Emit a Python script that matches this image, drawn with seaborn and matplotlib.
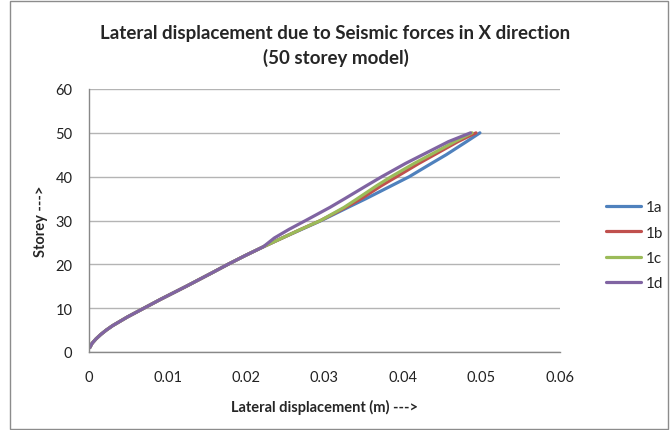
import numpy as np
import pandas as pd
import matplotlib
matplotlib.use('Agg')
import matplotlib.pyplot as plt
from matplotlib.patches import Rectangle
import seaborn as sns

# Storey levels
storeys = [1, 2, 3, 4, 5, 6, 8, 10, 12, 15, 18, 20, 22, 24,
           26, 28, 30, 33, 35, 38, 40, 43, 45, 48, 50]

# lower storeys: all four models lie on top of each other
lower = [0.0001, 0.0004, 0.0009, 0.0015, 0.0022, 0.0030, 0.0049, 0.0070,
         0.0091, 0.0124, 0.0156, 0.0177, 0.0199, 0.0222]

disp_1a = lower + [0.0246, 0.0271, 0.0296, 0.0330, 0.0353, 0.0386, 0.0408,
                   0.0436, 0.0455, 0.0481, 0.0498]
disp_1b = lower + [0.0246, 0.0270, 0.0295, 0.0327, 0.0347, 0.0373, 0.0392,
                   0.0420, 0.0440, 0.0470, 0.0493]
disp_1c = lower + [0.0246, 0.0270, 0.0295, 0.0325, 0.0342, 0.0367, 0.0385,
                   0.0414, 0.0435, 0.0466, 0.0488]
disp_1d = lower + [0.0236, 0.0255, 0.0276, 0.0307, 0.0326, 0.0354, 0.0373,
                   0.0403, 0.0425, 0.0458, 0.0486]

models = ['1a', '1b', '1c', '1d']
colors = ['#4F81BD', '#C0504D', '#9BBB59', '#8064A2']

rows = []
for name, vals in zip(models, [disp_1a, disp_1b, disp_1c, disp_1d]):
    for s, d in zip(storeys, vals):
        rows.append({'model': name, 'storey': s, 'disp': d})
df = pd.DataFrame(rows)

sns.set_style('white')
plt.rcParams['font.family'] = ['Lato', 'DejaVu Sans']

fig = plt.figure(figsize=(6.71, 4.31), dpi=100)
ax = fig.add_axes([89 / 671, 1 - 353 / 431, (560 - 89) / 671, (353 - 90) / 431])

sns.lineplot(data=df, x='disp', y='storey', hue='model', palette=colors,
             orient='y', sort=False, linewidth=2.3, ax=ax)

ax.set_xlim(0, 0.06)
ax.set_ylim(0, 60)
ax.set_xticks(np.arange(0, 0.061, 0.01))
ax.set_xticklabels(['0', '0.01', '0.02', '0.03', '0.04', '0.05', '0.06'])
ax.set_yticks(range(0, 61, 10))
ax.tick_params(axis='both', labelsize=10.5, colors='#222222', length=4,
               direction='out', width=0.8, color='#888888')
ax.tick_params(axis='x', pad=9)
ax.tick_params(axis='y', pad=8)
ax.yaxis.grid(True, color='#B4B4B4', linewidth=1)
ax.xaxis.grid(False)
for side in ['top', 'right']:
    ax.spines[side].set_visible(False)
for side in ['left', 'bottom']:
    ax.spines[side].set_color('#888888')
    ax.spines[side].set_linewidth(1)

ax.set_xlabel('Lateral displacement (m) --->', fontsize=10.5, fontweight='bold',
              labelpad=11)
ax.set_ylabel('Storey --->', fontsize=10.5, fontweight='bold', labelpad=5)

fig.text(0.5, 1 - 33 / 431, 'Lateral displacement due to Seismic forces in X direction',
         ha='center', va='center', fontsize=13.5, fontweight='bold')
fig.text(0.5, 1 - 58 / 431, '(50 storey model)',
         ha='center', va='center', fontsize=13.5, fontweight='bold')

leg = ax.legend(loc='upper left', bbox_to_anchor=(600 / 671, 1 - 195 / 431),
                bbox_transform=fig.transFigure, frameon=False, fontsize=11,
                handlelength=2.3, handletextpad=0.3, labelspacing=0.75,
                borderaxespad=0, title=None)
for line in leg.get_lines():
    line.set_linewidth(2.3)

fig.patches.append(Rectangle((10 / 671, 0.002), 658 / 671, 1 - 3 / 431,
                             transform=fig.transFigure, fill=False,
                             edgecolor='#8C8C8C', linewidth=1))

fig.savefig('out.png', dpi=100)
